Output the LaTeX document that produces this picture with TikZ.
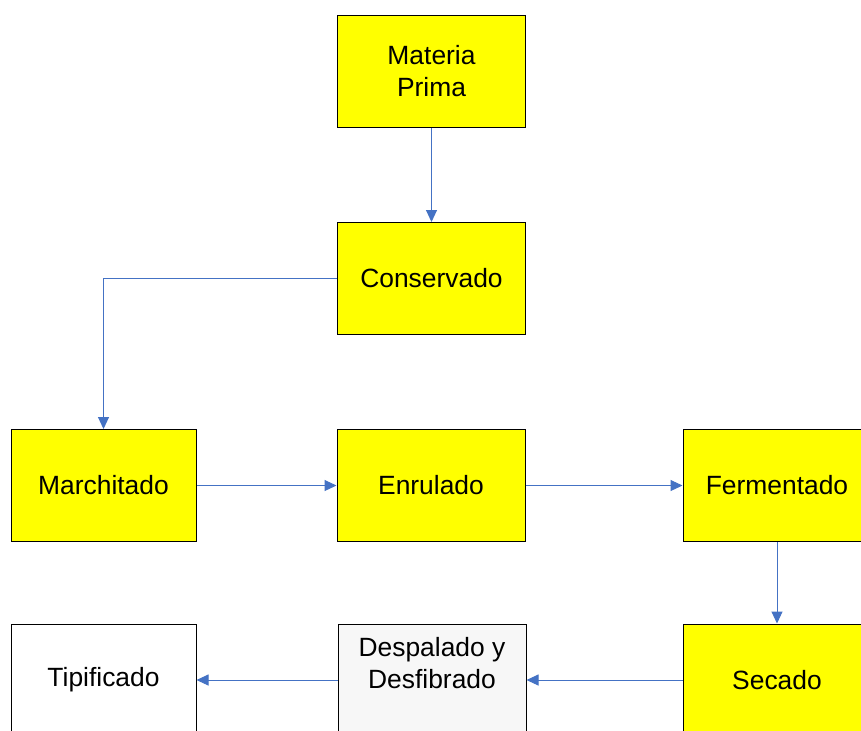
\documentclass[tikz,border=0pt]{standalone}
\usepackage{fontspec}
\setmainfont{Liberation Sans}
\usepackage{tikz}
\usetikzlibrary{arrows.meta, positioning, calc}
\definecolor{flechaazul}{RGB}{68,114,196}
\definecolor{grisclaro}{RGB}{247,247,247}
\definecolor{amarillo}{RGB}{255,255,0}

\begin{document}
\begin{tikzpicture}[x=0.5pt,y=-0.5pt,
    paso/.style={rectangle,draw=black,fill=amarillo,line width=0.5pt,minimum width=94pt,minimum height=56pt,align=center,inner sep=0pt,font=\fontsize{13.2}{16}\selectfont},
    flecha/.style={-{Triangle[length=6pt,width=5.5pt]},draw=flechaazul,line width=0.5pt}]
    \useasboundingbox (0,0) rectangle (861,730);
    \clip (0,0) rectangle (861,730);

    % Fila superior
    \node[paso] (materia) at (431.5,71.5) {Materia\\Prima};
    \node[paso] (conservado) at (431.5,278.5) {Conservado};

    % Fila central
    \node[paso,minimum width=92.5pt] (marchitado) at (103.5,485.5) {Marchitado};
    \node[paso] (enrulado) at (431,485.5) {Enrulado};
    \node[paso] (fermentado) at (777,485.5) {Fermentado};

    % Fila inferior
    \node[paso,fill=white,minimum width=92.5pt] (tipificado) at (103.5,680) {Tipificado};
    \node[paso,fill=grisclaro] (despalado) at (432,680) {};
    \node[align=center,inner sep=0pt,font=\fontsize{13.2}{16}\selectfont] (despaladotxt) at (432,663) {Despalado y\\Desfibrado};
    \node[paso] (secado) at (777,680) {Secado};

    % Flechas
    \draw[flecha] (materia) -- (conservado);
    \draw[flecha] (conservado.west) -| (marchitado.north);
    \draw[flecha] (marchitado) -- (enrulado);
    \draw[flecha] (enrulado) -- (fermentado);
    \draw[flecha] (fermentado) -- (secado);
    \draw[flecha] (secado) -- (despalado);
    \draw[flecha] (despalado) -- (tipificado);
\end{tikzpicture}
\end{document}
